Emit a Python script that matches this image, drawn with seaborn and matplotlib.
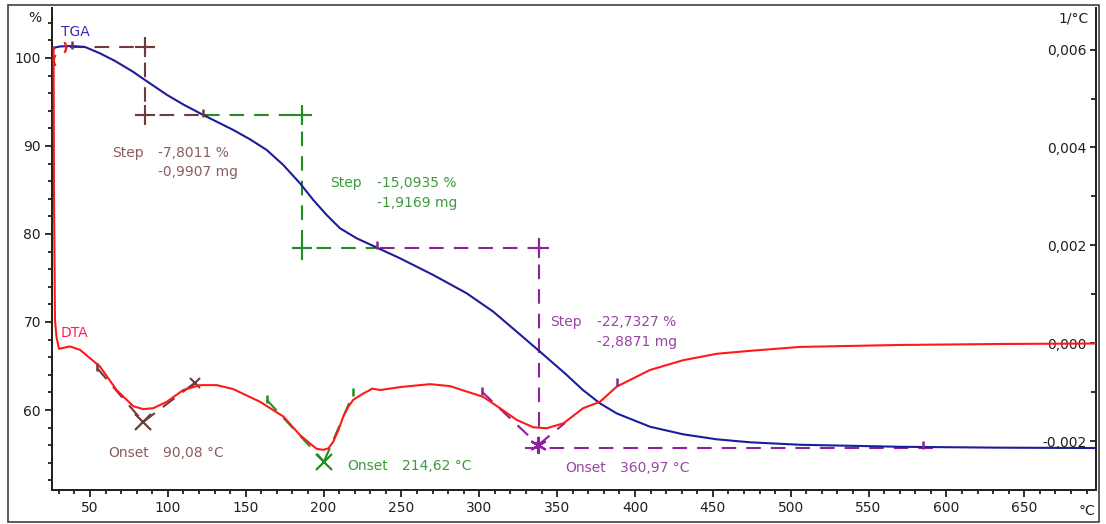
import numpy as np
import pandas as pd
import matplotlib
matplotlib.use("Agg")
import matplotlib.pyplot as plt
from matplotlib.patches import Rectangle
from matplotlib.ticker import MultipleLocator, FixedLocator, FuncFormatter
import seaborn as sns

# ---------------- data ----------------
# TGA mass curve (%), left axis
tga_temp = [26.2, 27.5, 30.7, 38.4, 46.8, 56.4, 66.1, 77.6, 85.3, 99.5, 109.9, 120.65,
            131.37, 142.04, 152.76, 163.49, 174.15, 184.87, 193.42, 202.02, 210.57, 221.29,
            235.16, 249.1, 270.49, 291.94, 309.02, 324.05, 339.02, 356.17, 366.6, 377.5,
            388.2, 409.7, 430.9, 452.5, 473.9, 506.0, 570.2, 634.5, 696.0]
tga_mass = [100.91, 101.19, 101.31, 101.36, 101.25, 100.53, 99.66, 98.44, 97.50, 95.80,
            94.72, 93.72, 92.76, 91.82, 90.76, 89.55, 87.84, 85.76, 83.86, 82.16, 80.65,
            79.51, 78.38, 77.24, 75.34, 73.26, 71.17, 68.90, 66.63, 63.98, 62.27, 60.76,
            59.62, 58.10, 57.24, 56.67, 56.33, 56.05, 55.82, 55.72, 55.68]

# DTA signal (1/°C), right axis
dta_temp = [26.6, 26.9, 27.5, 28.5, 30.1, 32.7, 37.2, 43.6, 50.0, 56.4, 67.1, 77.8, 84.2,
            90.7, 99.3, 109.9, 120.6, 131.4, 142.0, 159.2, 174.2, 184.9, 191.3, 195.6,
            199.8, 203.1, 206.3, 209.5, 212.7, 215.9, 219.1, 225.5, 229.8, 231.2, 236.3,
            249.1, 268.4, 281.2, 302.6, 313.3, 324.1, 334.7, 343.3, 354.0, 366.8, 377.5,
            388.3, 409.7, 431.1, 452.5, 473.9, 506.0, 570.2, 634.5, 696.0]
dta_val = [0.00605, 0.00293, 0.00048, 0.00013, -0.00011, -0.00009, -0.00006, -0.00013,
           -0.00030, -0.00047, -0.00095, -0.00128, -0.00134, -0.00132, -0.00119, -0.00095,
           -0.00085, -0.00085, -0.00093, -0.00119, -0.00149, -0.00187, -0.00204, -0.00215,
           -0.00217, -0.00214, -0.00200, -0.00177, -0.00149, -0.00129, -0.00115, -0.00102,
           -0.00095, -0.00092, -0.00095, -0.00089, -0.00083, -0.00087, -0.00109, -0.00132,
           -0.00156, -0.00171, -0.00173, -0.00163, -0.00132, -0.00119, -0.00088, -0.00054,
           -0.00034, -0.00021, -0.00015, -0.00007, -0.00003, -0.00001, 0.00000]

# mass-loss steps
step_start_level = 101.30
step_loss = [7.8011, 15.0935, 22.7327]
step_mass_mg = ["-0,9907 mg", "-1,9169 mg", "-2,8871 mg"]
step_temp = [85.3, 186.0, 338.6]
step_upper_span = [(37.2, 91.7), (123.9, 192.6), (236.3, 344.2)]
step_lower_span = [(78.9, 120.6), (179.5, 234.1), (329.4, 592.7)]
step_vert_extra = [(1.0, 1.0), (0.9, 1.4), (0.9, 0.3)]
step_colors = ["#6e3c3c", "#238c23", "#8c239c"]
step_text_colors = ["#8a5e5e", "#3c9c3c", "#9a44a6"]

# onset tangents on the DTA curve: (start, onset, end) points
onset_temp = [(54.5, 84.2, 117.4), (163.5, 200.3, 219.1), (301.6, 337.9, 355.1)]
onset_val = [(-0.00050, -0.00160, -0.00080), (-0.00115, -0.00241, -0.00102),
             (-0.00098, -0.00207, -0.00162)]
onset_label = ["90,08 °C", "214,62 °C", "360,97 °C"]
onset_marker = ["x", "x", (6, 2, 0)]

# evaluation-limit marks
tga_mark_temp = [38.4, 122.6, 234.3, 585.0]
tga_mark_mass = [101.42, 93.80, 78.75, 56.05]
tga_mark_color = ["#6e3c3c", "#6e3c3c", "#8c239c", "#8c239c"]
dta_mark_temp = [54.5, 163.5, 219.1, 301.6, 388.3]
dta_mark_val = [-0.00048, -0.00113, -0.00100, -0.00096, -0.00079]
dta_mark_color = ["#6e3c3c", "#238c23", "#238c23", "#8c239c", "#8c239c"]

x_major = list(range(50, 651, 50))
left_major = [60, 70, 80, 90, 100]
right_major = [-0.002, 0.0, 0.002, 0.004, 0.006]

TGA_COLOR = "#1c1c9c"
DTA_COLOR = "#ff1a1a"

# ---------------- figure ----------------
sns.set_theme(style="white")
plt.rcParams["font.family"] = ["DejaVu Sans"]

W, H = 1106, 524
fig = plt.figure(figsize=(W / 100, H / 100), dpi=100)
ax = fig.add_axes([52 / W, 1 - 490 / H, (1096 - 52) / W, (490 - 8) / H])
ax.set_xlim(25.6, 696.1)
ax.set_ylim(50.91, 105.68)
ax2 = ax.twinx()
ax2.set_ylim(-0.00299, 0.006847)

# step construction lines (left axis)
dash = (7, 4.8)
level = step_start_level
for i, loss in enumerate(step_loss):
    upper, lower = level, level - loss
    c = step_colors[i]
    ax.plot(step_upper_span[i], [upper, upper], color=c, lw=1.5, dashes=dash, zorder=2)
    ax.plot(step_lower_span[i], [lower, lower], color=c, lw=1.5, dashes=dash, zorder=2)
    e_top, e_bot = step_vert_extra[i]
    ax.plot([step_temp[i], step_temp[i]], [upper + e_top, lower - e_bot], color=c, lw=1.5,
            dashes=dash, zorder=2)
    ax.plot([step_temp[i]], [upper], marker="+", ms=15, mew=1.5, color=c, zorder=3)
    if i < 2:
        ax.plot([step_temp[i]], [lower], marker="+", ms=15, mew=1.5, color=c, zorder=3)
    level = lower

# TGA curve
sns.lineplot(x=tga_temp, y=tga_mass, ax=ax, color=TGA_COLOR, lw=1.5, zorder=4)

for t, m, c in zip(tga_mark_temp, tga_mark_mass, tga_mark_color):
    ax.plot([t], [m], marker="|", ms=6, mew=1.8, color=c, zorder=5)

# step texts
step_text_pos = [((64.1, 89.2), (93.7, 89.2), (93.7, 87.05)),
                 ((204.1, 85.8), (234.3, 85.8), (234.3, 83.5)),
                 ((345.4, 70.0), (375.6, 70.0), (375.6, 67.73))]
for i, (p_step, p_pct, p_mg) in enumerate(step_text_pos):
    c = step_text_colors[i]
    pct = f"-{step_loss[i]:.4f} %".replace(".", ",")
    ax.text(*p_step, "Step", color=c, fontsize=10, ha="left", va="center")
    ax.text(*p_pct, pct, color=c, fontsize=10, ha="left", va="center")
    ax.text(*p_mg, step_mass_mg[i], color=c, fontsize=10, ha="left", va="center")

# onset tangents and points (right axis)
for i in range(3):
    c = step_colors[i]
    t0, t1, t2 = onset_temp[i]
    v0, v1, v2 = onset_val[i]
    ax2.plot([t0, t1], [v0, v1], color=c, lw=1.5, dashes=dash, zorder=2)
    ax2.plot([t1, t2], [v1, v2], color=c, lw=1.5, dashes=dash, zorder=2)
    ax2.plot([t1], [v1], marker=onset_marker[i], ms=12, mew=1.6, color=c, zorder=3,
             linestyle="none")
ax2.plot([onset_temp[0][2]], [onset_val[0][2]], marker="x", ms=7, mew=1.5,
         color=step_colors[0], zorder=3)

# DTA curve
sns.lineplot(x=dta_temp, y=dta_val, ax=ax2, color=DTA_COLOR, lw=1.5, zorder=4)
for t, v, c in zip(dta_mark_temp, dta_mark_val, dta_mark_color):
    ax2.plot([t], [v], marker="|", ms=6, mew=1.8, color=c, zorder=5)
ax2.plot([27.2], [0.00578], marker="$($", ms=7, color=DTA_COLOR, zorder=5)
ax2.plot([33.8], [0.00605], marker="$)$", ms=7, color=DTA_COLOR, zorder=5)

# onset texts
onset_text_pos = [((61.6, 55.11), (96.9, 55.11)),
                  ((215.1, 53.64), (250.4, 53.64)),
                  ((355.1, 53.41), (390.4, 53.41))]
for i, (p_on, p_val) in enumerate(onset_text_pos):
    c = step_text_colors[i]
    ax.text(*p_on, "Onset", color=c, fontsize=10, ha="left", va="center")
    ax.text(*p_val, onset_label[i], color=c, fontsize=10, ha="left", va="center")

# curve names
ax.text(31.4, 102.95, "TGA", color="#3a2cb0", fontsize=10, ha="left", va="center")
ax.text(31.4, 68.75, "DTA", color="#ff2050", fontsize=10, ha="left", va="center")

# ---------------- axes styling ----------------
tick_color = "#202020"
for a in (ax, ax2):
    a.grid(False)
    a.spines["top"].set_visible(False)
    for s in ("left", "right", "bottom"):
        a.spines[s].set_color("#202020")
        a.spines[s].set_linewidth(1.3)

ax.xaxis.set_major_locator(FixedLocator(x_major))
ax.xaxis.set_minor_locator(MultipleLocator(10))
ax.yaxis.set_major_locator(FixedLocator(left_major))
ax.yaxis.set_minor_locator(FixedLocator(list(range(52, 106, 2))))
ax.tick_params(axis="both", which="major", direction="out", length=5, width=1.3,
               colors=tick_color, labelsize=10, pad=3)
ax.tick_params(axis="both", which="minor", direction="out", length=3, width=1.3,
               colors=tick_color)
ax.tick_params(axis="x", which="both", bottom=True)
ax.tick_params(axis="y", which="both", left=True)
ax.set_xticklabels([str(v) for v in x_major])
ax.set_yticklabels([str(v) for v in left_major])

ax2.yaxis.set_major_locator(FixedLocator(right_major))
ax2.yaxis.set_minor_locator(FixedLocator([-0.001, 0.001, 0.003, 0.005]))
ax2.yaxis.set_major_formatter(FuncFormatter(lambda v, p: f"{v:.3f}".replace(".", ",")
                                            .replace("-0,000", "0,000")))
ax2.tick_params(axis="y", which="major", direction="in", length=4.5, width=1.3,
                colors=tick_color, labelsize=10, pad=-6.5)
ax2.tick_params(axis="y", which="minor", direction="in", length=3.5, width=1.3,
                colors=tick_color)
for tk in ax2.yaxis.get_major_ticks():
    tk.label2.set_horizontalalignment("right")
ax2.set_ylabel("")
ax.set_ylabel("")
ax.set_xlabel("")

# unit labels
fig.text(35 / W, 1 - 18 / H, "%", fontsize=10, color=tick_color, ha="center", va="center")
fig.text(1074 / W, 1 - 18 / H, "1/°C", fontsize=10, color=tick_color, ha="center",
         va="center")
fig.text(1087 / W, 1 - 511 / H, "°C", fontsize=10, color=tick_color, ha="center",
         va="center")

# outer frame
fig.patches.append(Rectangle((8 / W, 2 / H), (1099 - 8) / W, (519 - 2) / H,
                             transform=fig.transFigure, fill=False, ec="#404040", lw=1.2))

fig.savefig("out.png", dpi=100)
